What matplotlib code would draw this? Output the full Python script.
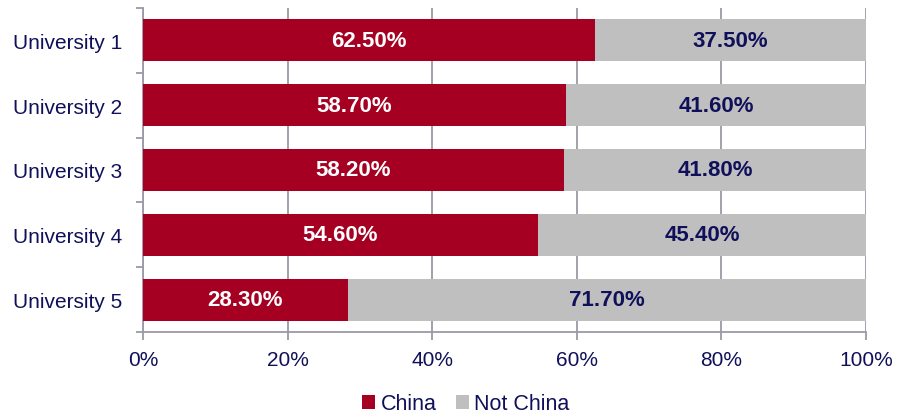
import matplotlib.pyplot as plt
import numpy as np

plt.rcParams['font.family'] = ['Liberation Sans', 'DejaVu Sans']

# Data
universities = ['University 1', 'University 2', 'University 3', 'University 4', 'University 5']
china = [62.5, 58.7, 58.2, 54.6, 28.3]
not_china = [37.5, 41.6, 41.8, 45.4, 71.7]

navy = '#10105a'
red = '#a50021'
grey = '#bfbfbf'
gridc = '#9a9aa8'

# 100% stacked shares
china_arr = np.array(china)
not_arr = np.array(not_china)
total = china_arr + not_arr
china_share = china_arr / total * 100
not_share = not_arr / total * 100

fig = plt.figure(figsize=(8.97, 4.14), dpi=100)
ax = fig.add_axes([143 / 897, 1 - 333 / 414, 723 / 897, 324 / 414])

y = np.arange(len(universities))
h = 0.65
ax.barh(y, china_share, height=h, color=red, label='China', zorder=3)
ax.barh(y, not_share, left=china_share, height=h, color=grey, label='Not China', zorder=3)

for i in range(len(universities)):
    ax.text(china_share[i] / 2, y[i], f'{china[i]:.2f}%', ha='center', va='center',
            color='white', fontsize=16, fontweight='bold', zorder=4)
    ax.text(china_share[i] + not_share[i] / 2, y[i], f'{not_china[i]:.2f}%', ha='center',
            va='center', color=navy, fontsize=16, fontweight='bold', zorder=4)

ax.set_xlim(0, 100)
ax.set_ylim(len(universities) - 0.5, -0.5)
ax.set_xticks(np.arange(0, 101, 20))
ax.set_xticklabels([f'{v}%' for v in range(0, 101, 20)])
ax.set_yticks(y)
ax.set_yticklabels(universities)
ax.set_yticks(np.arange(-0.5, len(universities), 1), minor=True)

ax.tick_params(axis='y', which='major', length=0, pad=15, labelsize=15, labelcolor=navy)
ax.tick_params(axis='y', which='minor', length=5, width=1.3, color=gridc, direction='out')
ax.tick_params(axis='x', length=6, width=1.3, color=gridc, pad=7, labelsize=15, labelcolor=navy)

ax.grid(axis='x', color=gridc, linewidth=1.3, zorder=0)
for s in ['top', 'right']:
    ax.spines[s].set_visible(False)
for s in ['left', 'bottom']:
    ax.spines[s].set_color(gridc)
    ax.spines[s].set_linewidth(1.3)

leg = fig.legend(loc='center', bbox_to_anchor=(466 / 897, 1 - 405 / 414), ncol=2, frameon=False,
                 fontsize=15.5, handlelength=0.6, handleheight=0.6, handletextpad=0.25,
                 columnspacing=0.9, borderpad=0)
for t in leg.get_texts():
    t.set_color(navy)

fig.savefig('out.png', dpi=100)
